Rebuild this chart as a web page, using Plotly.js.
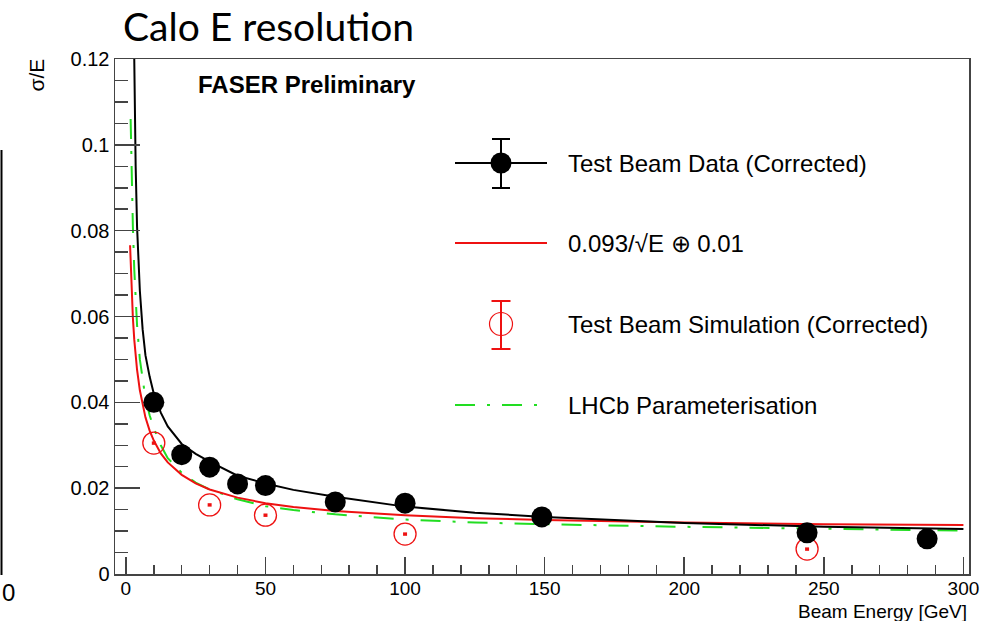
<!DOCTYPE html>
<html>
<head>
<meta charset="utf-8">
<script src="https://cdn.plot.ly/plotly-3.0.1.min.js"></script>
<style>
html,body{margin:0;padding:0;background:#fff;}
#chart{width:989px;height:621px;}
</style>
</head>
<body>
<div id="chart"></div>
<script>
// ---- Data ----
const dataE      = [10, 20, 30, 40, 50, 75, 100, 149, 244, 287];
const dataRes    = [0.0400, 0.0278, 0.0249, 0.0210, 0.0206, 0.0168, 0.0165, 0.0133, 0.0096, 0.0082];
const dataErr    = [0.0004, 0.0004, 0.0004, 0.0004, 0.0004, 0.0004, 0.0004, 0.0004, 0.0004, 0.0004];

const simE       = [10, 30, 50, 100, 244];
const simRes     = [0.0305, 0.0161, 0.0137, 0.0093, 0.0058];
const simErr     = [0.0004, 0.0004, 0.0004, 0.0004, 0.0004];

const fitE       = [2.9, 3.0, 3.2, 3.5, 4.0, 4.5, 5.0, 6, 7, 8.5, 10, 12.5, 15, 20, 25, 30, 40, 50, 60, 75, 100, 125, 150, 200, 250, 300];
const fitRes     = [0.125, 0.120, 0.107, 0.095, 0.081, 0.072, 0.066, 0.057, 0.051, 0.046, 0.042, 0.0376, 0.0344, 0.0303, 0.0280, 0.0262, 0.0229, 0.0211, 0.0196, 0.0180, 0.0157, 0.0143, 0.0133, 0.0119, 0.0110, 0.0105];

const paramE     = [1.5, 1.75, 2, 2.5, 3, 3.5, 4, 5, 6, 7, 8.5, 10, 12.5, 15, 20, 25, 30, 40, 50, 60, 75, 100, 125, 150, 200, 250, 300];
const paramRes   = [0.0766, 0.0710, 0.0665, 0.0597, 0.0546, 0.0507, 0.0476, 0.0428, 0.0393, 0.0365, 0.0334, 0.0311, 0.0281, 0.0260, 0.0231, 0.0211, 0.0197, 0.0178, 0.0165, 0.0156, 0.0147, 0.0137, 0.0130, 0.0126, 0.0120, 0.0116, 0.0114];

const lhcbE      = [1.7, 2.0, 2.5, 3.0, 3.5, 4.0, 5.0, 6, 7, 8.5, 10, 12.5, 15, 20, 25, 30, 40, 50, 60, 75, 100, 125, 150, 200, 250, 300];
const lhcbRes    = [0.106, 0.094, 0.081, 0.071, 0.064, 0.058, 0.050, 0.045, 0.041, 0.037, 0.034, 0.030, 0.027, 0.0236, 0.0213, 0.0197, 0.0174, 0.0158, 0.0149, 0.0139, 0.0127, 0.0120, 0.0116, 0.0110, 0.0105, 0.0101];

const xTickVals  = [0, 50, 100, 150, 200, 250, 300];
const xTickText  = ['0', '50', '100', '150', '200', '250', '300'];
const yTickVals  = [0, 0.02, 0.04, 0.06, 0.08, 0.1, 0.12];
const yTickText  = ['0', '0.02', '0.04', '0.06', '0.08', '0.1', '0.12'];

const legendLabels = ['Test Beam Data (Corrected)', '0.093/\u221AE \u2295 0.01', 'Test Beam Simulation (Corrected)', 'LHCb Parameterisation'];

// ---- Layout geometry (pixels) ----
const W = 989, H = 621;
const M = {l: 115, r: 20, t: 59, b: 47};
const PW = W - M.l - M.r, PH = H - M.t - M.b;
const px = x => (x - M.l) / PW;
const py = y => (H - M.b - y) / PH;

const FONT = 'Liberation Sans, Arial, Helvetica, sans-serif';
const RED = '#ee1111';
const GREEN = '#22dd22';
const AX = '#444444';
const DASHDOT = '20px,12px,3px,12px';

const traces = [
  {x: lhcbE, y: lhcbRes, mode: 'lines', line: {color: GREEN, width: 2, dash: DASHDOT}, showlegend: false, hoverinfo: 'skip'},
  {x: paramE, y: paramRes, mode: 'lines', line: {color: RED, width: 2}, showlegend: false, hoverinfo: 'skip'},
  {x: fitE, y: fitRes, mode: 'lines', line: {color: '#000', width: 2}, showlegend: false, hoverinfo: 'skip'},
  {x: simE, y: simRes, mode: 'markers', marker: {symbol: 'circle-open', size: 22, color: RED, line: {width: 1.3, color: RED}},
   error_y: {type: 'data', array: simErr, visible: true, color: RED, thickness: 4, width: 0}, showlegend: false},
  {x: dataE, y: dataRes, mode: 'markers', marker: {symbol: 'circle', size: 21, color: '#000'},
   error_y: {type: 'data', array: dataErr, visible: true, color: '#000', thickness: 1.5, width: 0}, showlegend: false}
];

// manual ROOT-style legend
const shapes = [];
const ann = [];
const lx0 = 455, lx1 = 547, lc = 501;
const rows = [163, 243, 324, 405];
// entry 1: black line + marker + error bar
shapes.push({type: 'line', xref: 'paper', yref: 'paper', x0: px(lx0), x1: px(lx1), y0: py(rows[0]), y1: py(rows[0]), line: {color: '#000', width: 2}});
shapes.push({type: 'line', xref: 'paper', yref: 'paper', x0: px(lc), x1: px(lc), y0: py(139), y1: py(188), line: {color: '#000', width: 2}});
shapes.push({type: 'line', xref: 'paper', yref: 'paper', x0: px(lc - 9), x1: px(lc + 9), y0: py(139), y1: py(139), line: {color: '#000', width: 2}});
shapes.push({type: 'line', xref: 'paper', yref: 'paper', x0: px(lc - 9), x1: px(lc + 9), y0: py(188), y1: py(188), line: {color: '#000', width: 2}});
shapes.push({type: 'circle', xref: 'paper', yref: 'paper', x0: px(lc - 10.5), x1: px(lc + 10.5), y0: py(rows[0] + 10.5), y1: py(rows[0] - 10.5), fillcolor: '#000', line: {color: '#000', width: 0}});
// entry 2: red line
shapes.push({type: 'line', xref: 'paper', yref: 'paper', x0: px(lx0), x1: px(lx1), y0: py(rows[1]), y1: py(rows[1]), line: {color: RED, width: 2}});
// entry 3: red open circle + error bar
shapes.push({type: 'line', xref: 'paper', yref: 'paper', x0: px(lc), x1: px(lc), y0: py(301), y1: py(349), line: {color: RED, width: 2}});
shapes.push({type: 'line', xref: 'paper', yref: 'paper', x0: px(lc - 9.5), x1: px(lc + 9.5), y0: py(301), y1: py(301), line: {color: RED, width: 2}});
shapes.push({type: 'line', xref: 'paper', yref: 'paper', x0: px(lc - 9.5), x1: px(lc + 9.5), y0: py(349), y1: py(349), line: {color: RED, width: 2}});
shapes.push({type: 'circle', xref: 'paper', yref: 'paper', x0: px(lc - 11.5), x1: px(lc + 11.5), y0: py(rows[2] + 11.5), y1: py(rows[2] - 11.5), fillcolor: 'rgba(0,0,0,0)', line: {color: RED, width: 1.2}});
// entry 4: green dash-dot
shapes.push({type: 'line', xref: 'paper', yref: 'paper', x0: px(lx0), x1: px(lx1), y0: py(rows[3]), y1: py(rows[3]), line: {color: GREEN, width: 2, dash: DASHDOT}});

legendLabels.forEach((t, i) => {
  ann.push({text: t, xref: 'paper', yref: 'paper', x: px(566), y: py(rows[i]), xanchor: 'left', yanchor: 'middle', showarrow: false, font: {family: FONT, size: 24, color: '#000'}});
});

// left neighbouring-plot fragment
shapes.push({type: 'line', xref: 'paper', yref: 'paper', x0: px(1.5), x1: px(1.5), y0: py(150), y1: py(575), line: {color: '#000', width: 2}});
ann.push({text: '0', xref: 'paper', yref: 'paper', x: px(8), y: py(592), xanchor: 'center', yanchor: 'middle', showarrow: false, font: {family: FONT, size: 24, color: '#000'}});

// titles and labels
ann.push({text: 'Calo E resolution', xref: 'paper', yref: 'paper', x: px(121), y: py(26), xanchor: 'left', yanchor: 'middle', showarrow: false, font: {family: 'Lato, Open Sans, sans-serif', size: 39, color: '#000'}});
ann.push({text: '<b>FASER Preliminary</b>', xref: 'paper', yref: 'paper', x: px(196), y: py(85), xanchor: 'left', yanchor: 'middle', showarrow: false, font: {family: FONT, size: 24, color: '#000'}});
ann.push({text: '\u03C3/E', xref: 'paper', yref: 'paper', x: px(36), y: py(57), xanchor: 'center', yanchor: 'top', textangle: -90, showarrow: false, font: {family: FONT, size: 21, color: '#000'}});
ann.push({text: 'Beam Energy [GeV]', xref: 'paper', yref: 'paper', x: px(968), y: py(611), xanchor: 'right', yanchor: 'middle', borderpad: 0, showarrow: false, font: {family: FONT, size: 19, color: '#000'}});

const layout = {
  width: W, height: H,
  margin: M,
  paper_bgcolor: '#fff', plot_bgcolor: '#fff',
  showlegend: false,
  font: {family: FONT, size: 20, color: '#000'},
  xaxis: {
    range: [-3.9, 302], tickvals: xTickVals, ticktext: xTickText,
    ticks: 'inside', ticklen: 17, tickwidth: 1.5, tickcolor: AX,
    minor: {dtick: 10, tick0: 0, ticks: 'inside', ticklen: 9, tickwidth: 1.5, tickcolor: AX},
    showline: true, mirror: true, linecolor: AX, linewidth: 1.5,
    showgrid: false, zeroline: false, ticklabelstandoff: -3,
    tickfont: {family: FONT, size: 19, color: '#000'}
  },
  yaxis: {
    range: [0, 0.12], tickvals: yTickVals, ticktext: yTickText,
    ticks: 'inside', ticklen: 25, tickwidth: 1.5, tickcolor: AX,
    minor: {dtick: 0.005, tick0: 0, ticks: 'inside', ticklen: 13, tickwidth: 1.5, tickcolor: AX},
    showline: true, mirror: true, linecolor: AX, linewidth: 1.5,
    showgrid: false, zeroline: false,
    tickfont: {family: FONT, size: 20, color: '#000'}
  },
  shapes: shapes,
  annotations: ann
};

Plotly.newPlot('chart', traces, layout, {staticPlot: true, displayModeBar: false});
</script>
</body>
</html>
